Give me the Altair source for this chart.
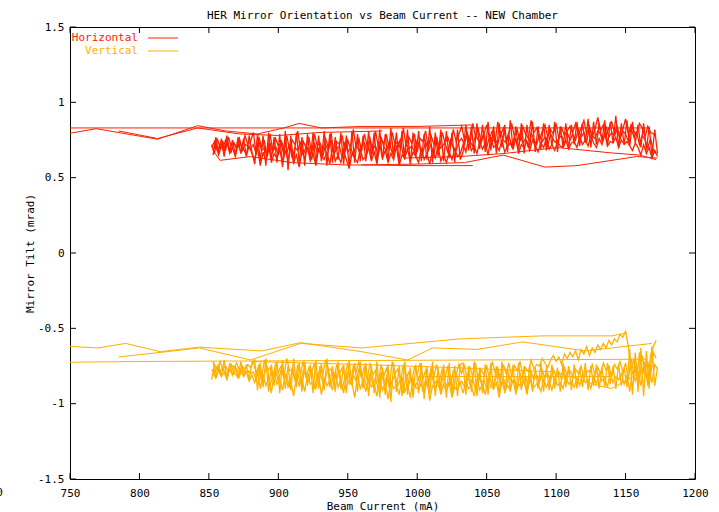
import altair as alt
import pandas as pd

FONT = "DejaVu Sans Mono"
TITLE = "HER Mirror Orientation vs Beam Current -- NEW Chamber"
X_TITLE = "Beam Current (mA)"
Y_TITLE = "Mirror Tilt (mrad)"
SERIES = ["Horizontal", "Vertical"]
COLORS = ["#ff2000", "#ffb000"]
X_TICKS = [750, 800, 850, 900, 950, 1000, 1050, 1100, 1150, 1200]
Y_TICKS = [-1.5, -1, -0.5, 0, 0.5, 1, 1.5]
STRAY_LABEL = ["700"]  # clipped tick label visible at the left edge

# beam current samples of the dense scans (mA)
X_EVEN = [
    852, 854, 856, 858, 860, 862, 864, 866, 868, 870, 872, 874, 876, 878, 880, 882, 884, 886, 888, 890,
    892, 894, 896, 898, 900, 902, 904, 906, 908, 910, 912, 914, 916, 918, 920, 922, 924, 926, 928, 930,
    932, 934, 936, 938, 940, 942, 944, 946, 948, 950, 952, 954, 956, 958, 960, 962, 964, 966, 968, 970,
    972, 974, 976, 978, 980, 982, 984, 986, 988, 990, 992, 994, 996, 998, 1000, 1002, 1004, 1006, 1008, 1010,
    1012, 1014, 1016, 1018, 1020, 1022, 1024, 1026, 1028, 1030, 1032, 1034, 1036, 1038, 1040, 1042, 1044, 1046, 1048, 1050,
    1052, 1054, 1056, 1058, 1060, 1062, 1064, 1066, 1068, 1070, 1072, 1074, 1076, 1078, 1080, 1082, 1084, 1086, 1088, 1090,
    1092, 1094, 1096, 1098, 1100, 1102, 1104, 1106, 1108, 1110, 1112, 1114, 1116, 1118, 1120, 1122, 1124, 1126, 1128, 1130,
    1132, 1134, 1136, 1138, 1140, 1142, 1144, 1146, 1148, 1150, 1152, 1154, 1156, 1158, 1160, 1162, 1164, 1166, 1168, 1170,
    1172,
]
X_ODD = [
    853, 855, 857, 859, 861, 863, 865, 867, 869, 871, 873, 875, 877, 879, 881, 883, 885, 887, 889, 891,
    893, 895, 897, 899, 901, 903, 905, 907, 909, 911, 913, 915, 917, 919, 921, 923, 925, 927, 929, 931,
    933, 935, 937, 939, 941, 943, 945, 947, 949, 951, 953, 955, 957, 959, 961, 963, 965, 967, 969, 971,
    973, 975, 977, 979, 981, 983, 985, 987, 989, 991, 993, 995, 997, 999, 1001, 1003, 1005, 1007, 1009, 1011,
    1013, 1015, 1017, 1019, 1021, 1023, 1025, 1027, 1029, 1031, 1033, 1035, 1037, 1039, 1041, 1043, 1045, 1047, 1049, 1051,
    1053, 1055, 1057, 1059, 1061, 1063, 1065, 1067, 1069, 1071, 1073, 1075, 1077, 1079, 1081, 1083, 1085, 1087, 1089, 1091,
    1093, 1095, 1097, 1099, 1101, 1103, 1105, 1107, 1109, 1111, 1113, 1115, 1117, 1119, 1121, 1123, 1125, 1127, 1129, 1131,
    1133, 1135, 1137, 1139, 1141, 1143, 1145, 1147, 1149, 1151, 1153, 1155, 1157, 1159, 1161, 1163, 1165, 1167, 1169, 1171,
    1173,
]

# mirror tilt readings, hundredths of mrad
H_SCAN_A = [
    72, 66, 76, 70, 74, 68, 77, 71, 73, 69, 75, 70, 78, 72, 74,
    80, 66, 77, 70, 74, 64, 79, 68, 76, 71, 73, 65, 78, 69, 75, 72, 81, 67, 74, 70,
    77, 66, 79, 71, 73, 68, 76, 70, 80, 65, 74, 72, 78, 67, 75, 69, 82, 70, 76, 68,
    79, 71, 76, 66, 81, 70, 75, 73, 78, 68, 80, 72, 74, 69, 83, 71, 77, 73, 79, 67,
    76, 74, 81, 70, 78, 72, 75, 69, 80, 73, 77, 71, 82, 74, 79,
    84, 75, 80, 72, 86, 77, 82, 74, 79, 85, 76, 81, 73, 87, 78, 83, 75, 80, 86, 77,
    82, 74, 84, 79, 76, 88, 80, 83, 75, 81, 85, 77, 82, 79, 86, 76, 83, 78, 81, 84,
    80, 86, 78, 83, 88, 79, 84, 77, 82, 90, 81, 85, 78, 83, 87, 80, 84, 76, 82, 89,
    79, 85, 81, 78, 86, 83, 77, 84, 80, 79, 78,
]
H_SCAN_B = [
    68, 73, 65, 71, 67, 74, 66, 70, 64, 72, 67, 69, 65, 71, 66,
    62, 70, 58, 67, 61, 72, 60, 66, 63, 69, 59, 68, 62, 71, 60, 65, 57, 67, 63, 70,
    61, 66, 58, 69, 64, 62, 67, 59, 70, 61, 65, 60, 68, 62, 56, 66, 63, 60, 69, 62,
    64, 70, 61, 67, 59, 72, 63, 68, 60, 66, 62, 71, 58, 65, 63, 69, 61, 67, 64, 60,
    70, 62, 66, 59, 68, 63, 71, 61, 65, 60, 67, 62, 69, 64, 66,
    72, 67, 76, 68, 71, 66, 74, 69, 73, 65, 77, 70, 72, 68, 75, 67, 71, 73, 69, 76,
    66, 72, 70, 74, 68, 75, 71, 67, 73, 70, 76, 69, 72, 68, 74, 71, 70, 75, 69, 73,
    74, 70, 77, 72, 75, 71, 78, 73, 70, 76, 72, 79, 71, 74, 73, 77, 70, 75, 72, 74,
    71, 68, 73, 70, 65, 72, 66, 70, 63, 68, 64,
]
H_SCAN_C = [
    70, 74, 68, 72, 69, 75, 71, 67, 73, 70, 76, 68, 72, 71, 69,
    72, 66, 74, 68, 70, 64, 73, 67, 71, 65, 75, 69, 66, 72, 63, 70, 68, 74, 65, 71,
    69, 62, 73, 67, 70, 64, 72, 68, 75, 66, 69, 71, 63, 74, 67, 70, 65, 72, 68, 71,
    73, 67, 75, 69, 71, 65, 77, 70, 68, 74, 66, 72, 70, 76, 64, 73, 69, 71, 67, 75,
    70, 66, 74, 68, 72, 65, 77, 69, 71, 73, 67, 75, 70, 68, 74,
    76, 72, 79, 74, 71, 78, 75, 73, 80, 70, 77, 74, 76, 72, 81, 75, 73, 78, 71, 77,
    74, 79, 73, 76, 70, 80, 75, 72, 78, 74, 77, 71, 79, 75, 73, 76, 78, 72, 80, 75,
    79, 75, 82, 77, 80, 74, 83, 78, 76, 81, 79, 75, 84, 77, 80, 78, 82, 76, 81, 79,
    74, 83, 77, 80, 72, 78, 75, 70, 76, 68, 66,
]
H_SCAN_D = [
    65, 77, 66, 76, 64, 78, 67, 75, 65, 77, 66, 76, 64, 78, 67,
    59, 79, 61, 78, 58, 80, 62, 77, 60, 79, 57, 81, 55, 78, 59, 80, 60, 77, 58, 79,
    62, 80, 59, 78, 61, 81, 58, 79, 60, 77, 62, 80, 59, 78, 57, 81, 60, 79, 61, 78,
    61, 81, 63, 80, 60, 82, 62, 79, 61, 83, 64, 80, 60, 81, 62, 82, 59, 80, 63, 81,
    61, 79, 62, 84, 60, 80, 64, 82, 61, 81, 63, 80, 60, 82, 62,
    67, 85, 68, 84, 66, 86, 69, 85, 67, 87, 68, 84, 66, 86, 70, 85, 67, 88, 69, 84,
    68, 86, 66, 85, 70, 87, 67, 84, 69, 86, 68, 85, 71, 87, 67, 84, 70, 86, 69, 85,
    72, 87, 71, 86, 73, 89, 70, 87, 72, 86, 74, 88, 71, 87, 73, 91, 70, 86, 72, 88,
    71, 87, 73, 85, 70, 86, 68, 84, 64, 82, 66,
]
V_SCAN_A = [
    -84, -74, -78, -72, -77, -75, -79, -74, -76, -73, -78, -75, -77, -74, -76,
    -72, -80, -74, -83, -71, -78, -76, -84, -73, -79, -75, -82, -70, -78, -77, -85, -74, -80, -72, -83,
    -76, -79, -73, -86, -75, -81, -71, -78, -77, -84, -74, -80, -76, -82, -73, -87, -75, -79, -72, -83,
    -75, -84, -73, -81, -78, -86, -74, -82, -76, -88, -72, -80, -77, -85, -74, -83, -79, -87, -75, -81,
    -73, -84, -78, -86, -76, -82, -74, -85, -77, -83, -75, -88, -78, -81, -74,
    -80, -74, -84, -76, -82, -73, -86, -77, -81, -75, -83, -72, -79, -76, -84, -74, -80, -73, -82, -75,
    -78, -72, -81, -76, -79, -71, -77, -74, -75, -70, -73, -76, -71, -68, -72, -69, -74, -67, -70, -66,
    -69, -65, -71, -64, -67, -62, -68, -63, -66, -61, -64, -60, -63, -58, -61, -57, -59, -54, -56, -52,
    -62, -78, -70, -84, -66, -80, -72, -88, -68, -62, -58,
]
V_SCAN_B = [
    -80, -83, -78, -82, -79, -84, -77, -81, -80, -83, -78, -82, -79, -85, -81,
    -86, -78, -90, -81, -88, -83, -93, -79, -87, -84, -91, -80, -89, -85, -95, -82, -88, -84, -92, -80,
    -87, -86, -90, -81, -94, -83, -88, -85, -91, -79, -89, -84, -93, -82, -87, -86, -96, -81, -90, -85,
    -92, -84, -89, -87, -95, -83, -91, -86, -97, -85, -90, -88, -94, -82, -92, -87, -96, -84, -89, -91,
    -86, -93, -85, -98, -88, -90, -84, -94, -87, -92, -85, -96, -89, -91, -86,
    -93, -85, -90, -88, -95, -84, -91, -87, -94, -83, -89, -90, -86, -96, -85, -92, -88, -91, -84, -93,
    -87, -89, -85, -94, -83, -90, -88, -86, -92, -84, -89, -85, -91, -83, -88, -86, -90, -82, -87, -85,
    -89, -83, -88, -81, -86, -84, -90, -82, -87, -80, -85, -83, -89, -79, -86, -82, -84, -80, -87, -81,
    -92, -78, -85, -80, -88, -76, -83, -79, -86, -74, -77,
]
V_SCAN_C = [
    -77, -80, -75, -79, -76, -81, -78, -74, -80, -77, -82, -76, -79, -78, -80,
    -79, -84, -76, -86, -80, -75, -88, -82, -78, -85, -77, -83, -81, -89, -76, -84, -80, -87, -78, -82,
    -85, -77, -90, -81, -79, -86, -83, -76, -88, -80, -84, -78, -91, -82, -79, -86, -81, -85, -77, -83,
    -84, -89, -80, -87, -83, -91, -79, -86, -82, -90, -85, -81, -88, -84, -93, -80, -87, -83, -89, -86,
    -81, -92, -84, -88, -79, -87, -85, -90, -82, -86, -89, -83, -91, -80, -87,
    -85, -89, -81, -87, -83, -91, -80, -86, -84, -90, -82, -88, -85, -79, -87, -83, -89, -81, -86, -84,
    -90, -80, -85, -82, -88, -79, -84, -81, -86, -78, -83, -80, -85, -77, -82, -79, -84, -76, -81, -78,
    -82, -77, -80, -75, -83, -78, -79, -74, -81, -76, -80, -73, -78, -75, -82, -74, -77, -72, -79, -73,
    -84, -70, -80, -74, -86, -68, -78, -72, -82, -66, -70,
]
V_SCAN_D = [
    -72, -83, -74, -82, -71, -84, -73, -81, -75, -83, -72, -82, -74, -84, -73,
    -71, -91, -73, -89, -70, -92, -74, -88, -72, -93, -71, -90, -75, -91, -70, -89, -73, -92, -72, -88,
    -74, -93, -71, -90, -73, -91, -70, -89, -75, -92, -72, -90, -74, -93, -71, -88, -73, -92, -72, -90,
    -73, -95, -75, -93, -72, -96, -76, -94, -74, -99, -73, -92, -75, -95, -72, -94, -76, -96, -74, -93,
    -73, -97, -75, -94, -72, -95, -76, -93, -74, -96, -73, -94, -75, -95, -74,
    -73, -94, -75, -92, -72, -95, -76, -93, -74, -94, -73, -91, -75, -95, -72, -93, -76, -92, -74, -94,
    -73, -91, -75, -93, -74, -92, -76, -90, -73, -92, -75, -91, -74, -90, -76, -92, -73, -89, -75, -91,
    -74, -90, -76, -89, -73, -91, -75, -88, -74, -90, -76, -89, -73, -87, -75, -90, -74, -88, -76, -89,
    -64, -94, -66, -92, -63, -95, -65, -90, -62, -88, -76,
]

# sparse stretches between scans: (beam current mA, tilt mrad)
H_TRACE_1 = [(750, 0.83), (1166, 0.83)]
H_TRACE_2 = [(750, 0.795), (769, 0.825), (813, 0.755), (842, 0.845), (862, 0.81), (885, 0.79),
             (904, 0.83), (915, 0.86), (931, 0.83), (960, 0.84), (1000, 0.84), (1040, 0.85)]
H_TRACE_3 = [(785, 0.81), (813, 0.76), (842, 0.83), (872, 0.79), (900, 0.78), (930, 0.80), (975, 0.81)]
H_TRACE_4 = [(853, 0.68), (858, 0.615), (880, 0.64), (910, 0.60), (947, 0.585), (1000, 0.58), (1040, 0.58)]
H_TRACE_5 = [(960, 0.585), (1000, 0.59), (1034, 0.60), (1062, 0.65), (1092, 0.57), (1115, 0.58),
             (1158, 0.64), (1173, 0.63)]
H_TRACE_6 = [(990, 0.63), (1030, 0.64), (1062, 0.66), (1101, 0.70), (1139, 0.665), (1160, 0.65), (1172, 0.62)]

V_TRACE_1 = [(750, -0.725), (800, -0.72), (1165, -0.705)]
V_TRACE_2 = [(750, -0.62), (770, -0.63), (790, -0.60), (815, -0.655), (843, -0.625), (888, -0.65),
             (916, -0.595), (960, -0.655), (993, -0.71), (1011, -0.63), (1043, -0.64), (1076, -0.59),
             (1121, -0.65), (1169, -0.60)]
V_TRACE_3 = [(785, -0.69), (815, -0.66), (843, -0.63), (880, -0.71), (916, -0.60), (960, -0.63),
             (1031, -0.57), (1090, -0.55), (1140, -0.55), (1151, -0.53)]
V_TRACE_4 = [(880, -0.72), (960, -0.74), (1024, -0.76), (1100, -0.79), (1130, -0.88), (1140, -0.90),
             (1163, -0.78)]
V_TRACE_5 = [(1000, -0.82), (1140, -0.82)]

rows = []


def add(series, seg, pts, w):
    for i, (x, y) in enumerate(pts):
        rows.append({"series": series, "seg": seg, "order": i, "x": x, "y": y, "w": w})


def scan(xs_, vals):
    return [(x, v / 100) for x, v in zip(xs_, vals)]


for k, tr in enumerate([H_TRACE_1, H_TRACE_2, H_TRACE_3, H_TRACE_4, H_TRACE_5, H_TRACE_6]):
    add("Horizontal", f"ht{k}", tr, 1.0)
add("Horizontal", "hA", scan(X_EVEN, H_SCAN_A), 1.3)
add("Horizontal", "hB", scan(X_ODD, H_SCAN_B), 1.3)
add("Horizontal", "hC", scan(X_EVEN, H_SCAN_C), 1.3)
add("Horizontal", "hD", scan(X_ODD, H_SCAN_D), 1.3)
for k, tr in enumerate([V_TRACE_1, V_TRACE_2, V_TRACE_3, V_TRACE_4, V_TRACE_5]):
    add("Vertical", f"vt{k}", tr, 1.0)
add("Vertical", "vA", scan(X_EVEN, V_SCAN_A), 1.3)
add("Vertical", "vB", scan(X_ODD, V_SCAN_B), 1.3)
add("Vertical", "vC", scan(X_EVEN, V_SCAN_C), 1.3)
add("Vertical", "vD", scan(X_ODD, V_SCAN_D), 1.3)

df = pd.DataFrame(rows)

W, H = 625, 452
xs = alt.Scale(domain=[750, 1200], nice=False, zero=False)
ys = alt.Scale(domain=[-1.5, 1.5], nice=False, zero=False)

common_axis = dict(
    ticks=False, tickSize=0, domain=False, grid=False,
    labelFont=FONT, labelFontSize=11, labelColor="black",
    titleFont=FONT, titleFontSize=11, titleFontWeight="normal", titleColor="black",
    labelExpr="'' + datum.value", labelOverlap=False, labelFlush=False,
)
X_AXIS = alt.Axis(values=X_TICKS, title=X_TITLE, labelPadding=8,
                  titleY=27, titleBaseline="middle", **common_axis)
Y_AXIS = alt.Axis(values=Y_TICKS, title=Y_TITLE, labelPadding=6,
                  titleX=-40, titleY=H / 2, titleBaseline="middle", **common_axis)

lines = alt.Chart(df).mark_line(clip=True).encode(
    x=alt.X("x:Q", scale=xs, axis=X_AXIS, title=X_TITLE),
    y=alt.Y("y:Q", scale=ys, axis=Y_AXIS, title=Y_TITLE),
    color=alt.Color("series:N", scale=alt.Scale(domain=SERIES, range=COLORS), legend=None),
    strokeWidth=alt.StrokeWidth("w:Q", scale=None),
    detail="seg:N",
    order="order:Q",
)

ytick_df = pd.DataFrame({"y": Y_TICKS})
xtick_df = pd.DataFrame({"x": X_TICKS})
TL = 6


def yticks(x0, x1):
    return alt.Chart(ytick_df).mark_rule(color="black", strokeWidth=1).encode(
        y=alt.Y("y:Q", scale=ys, axis=Y_AXIS, title=Y_TITLE), x=alt.value(x0), x2=alt.value(x1))


def xticks(y0, y1):
    return alt.Chart(xtick_df).mark_rule(color="black", strokeWidth=1).encode(
        x=alt.X("x:Q", scale=xs, axis=X_AXIS, title=X_TITLE), y=alt.value(y0), y2=alt.value(y1))


legend_layers = []
for i, (name, col) in enumerate(zip(SERIES, COLORS)):
    d = pd.DataFrame({"label": [name]})
    ly = 11 + 13 * i
    legend_layers.append(
        alt.Chart(d).mark_text(align="right", baseline="middle", font=FONT, fontSize=11, color=col)
        .encode(x=alt.value(68), y=alt.value(ly), text="label:N"))
    legend_layers.append(
        alt.Chart(d).mark_rule(color=col, strokeWidth=1)
        .encode(x=alt.value(78), x2=alt.value(108), y=alt.value(ly)))

stray = alt.Chart(pd.DataFrame({"label": STRAY_LABEL})).mark_text(
    align="right", baseline="top", font=FONT, fontSize=11, color="black"
).encode(x=alt.value(-67), y=alt.value(H + 8), text="label:N")

chart = alt.layer(
    lines, yticks(0, TL), yticks(W - TL, W), xticks(H - TL, H), xticks(0, TL), *legend_layers, stray
).properties(
    width=W, height=H,
    autosize=alt.AutoSizeParams(type="none"),
    padding={"left": 70, "top": 27, "right": 24, "bottom": 33},
    title=alt.TitleParams(TITLE, font=FONT, fontSize=11, fontWeight="normal", color="black",
                          anchor="middle", offset=6, dy=6),
).configure_view(stroke="black", strokeWidth=1)

chart.save("out.html", embed_options={"renderer": "svg", "actions": False})
